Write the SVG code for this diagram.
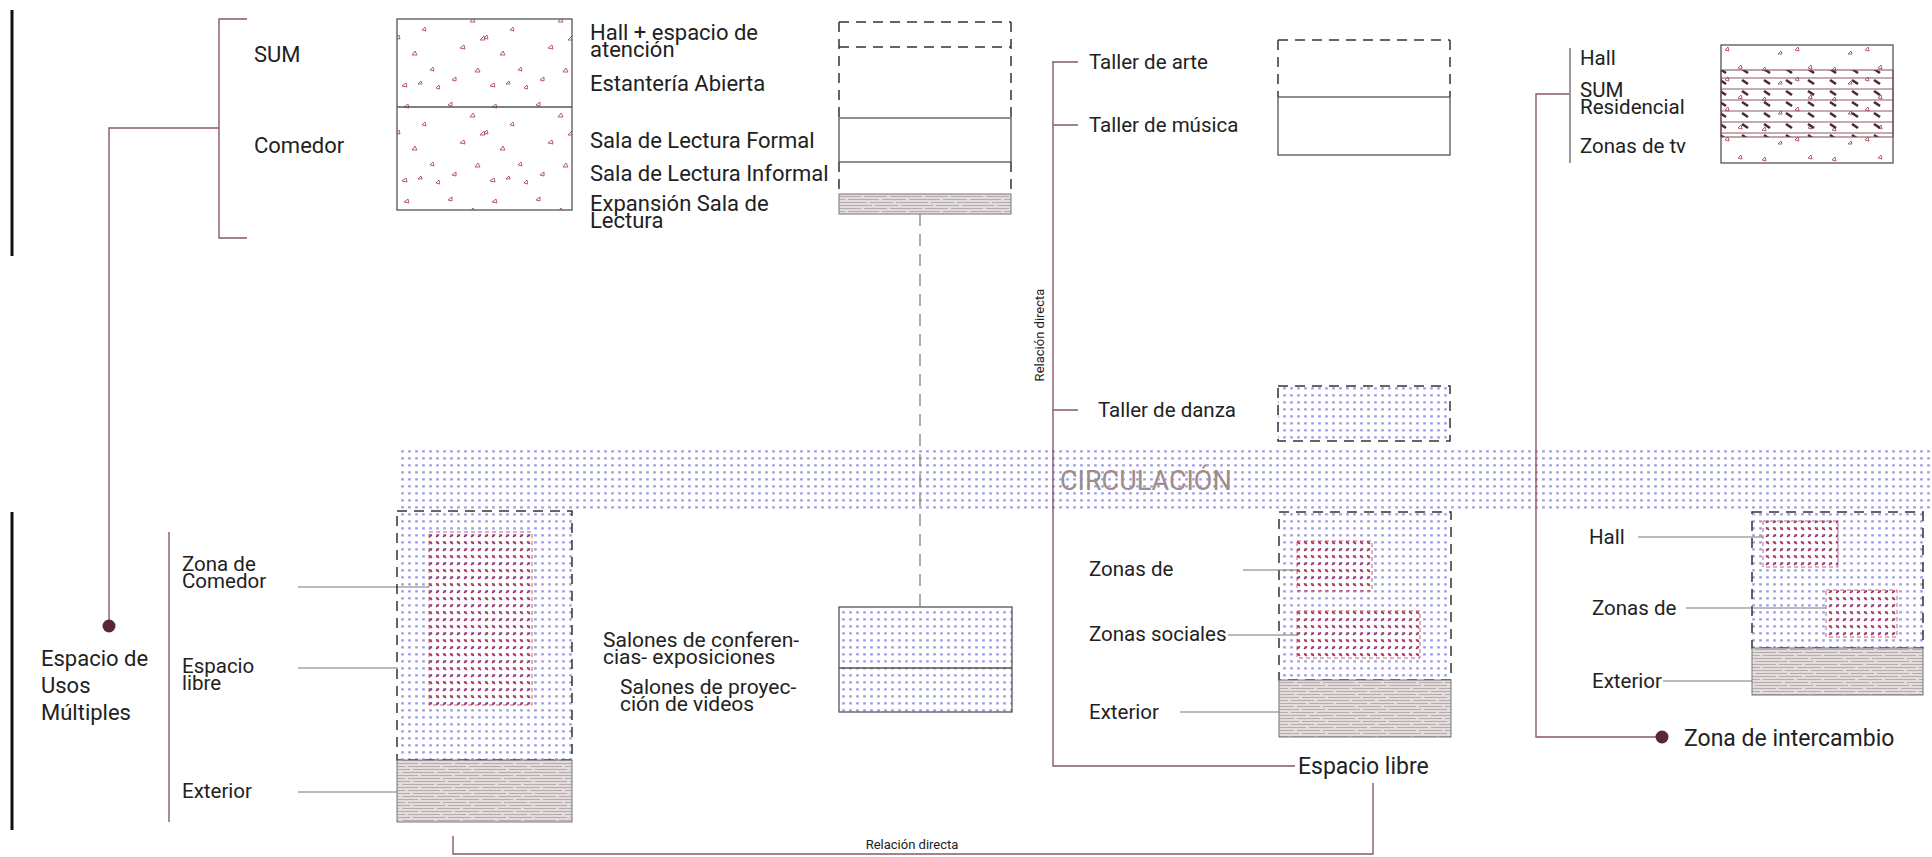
<svg xmlns="http://www.w3.org/2000/svg" width="1932" height="857" viewBox="0 0 1932 857">
<defs>
<style>
text{font-family:Roboto,"Liberation Sans",sans-serif;fill:#222;font-size:20.5px}
.lib{font-size:22px}
.sal{font-size:21px}
.big{font-size:23px}
.sm{font-size:13px}
.dash{fill:none;stroke:#333;stroke-width:1.5;stroke-dasharray:10 7}
.solid{fill:none;stroke:#555;stroke-width:1.3}
.mar{fill:none;stroke:#8a5862;stroke-width:1.4}
.lead{fill:none;stroke:#777;stroke-width:1}
.redbox{fill:url(#red);stroke:#b04050;stroke-width:0.8;stroke-dasharray:4 3}
.ext{fill:url(#hatch);stroke:#777;stroke-width:1}
</style>
<pattern id="dots" width="7" height="7" patternUnits="userSpaceOnUse">
<rect x="2.2" y="2.2" width="2.6" height="2.3" fill="#9a9ae8"/>
</pattern>
<pattern id="red" width="7" height="14" patternUnits="userSpaceOnUse">
<rect x="2.2" y="2.2" width="2.6" height="2.3" fill="#9a9ae8"/>
<rect x="2.2" y="9.2" width="2.6" height="2.3" fill="#9a9ae8"/>
<path d="M2,5 L5,2.5" stroke="#b3283e" stroke-width="1.6"/>
<path d="M2,9.5 L5,12" stroke="#b3283e" stroke-width="1.6"/>
</pattern>
<pattern id="hatch" width="61" height="12" patternUnits="userSpaceOnUse">
<rect width="61" height="12" fill="#e3dcdc"/>
<g stroke="#a3979a" stroke-width="0.7">
<path d="M0,1.5 H18 M21,1.5 H44 M47,1.5 H61"/>
<path d="M0,4.5 H7 M10,4.5 H33 M36,4.5 H61"/>
<path d="M0,7.5 H25 M28,7.5 H52 M55,7.5 H61"/>
<path d="M0,10.5 H13 M16,10.5 H39 M42,10.5 H61"/>
</g>
</pattern>
<pattern id="tri" width="88" height="95" patternUnits="userSpaceOnUse">
<g fill="none" stroke="#b04858" stroke-width="0.9">
<path d="M8,10 l4,-3 l0,4z M30,22 l3,-4 l2,4z M52,12 l4,-3 l1,4z M70,30 l3,-3 l1,4z M20,48 l4,-3 l1,4z M60,55 l3,-4 l2,4z M40,40 l4,-4 l1,4z M78,70 l3,-3 l1,4z M12,80 l4,-3 l0,4z M35,72 l3,-4 l2,4z M50,86 l4,-3 l1,4z M84,88 l3,-3 l1,4z M44,38 l3,-3 l1,4z M66,84 l3,-3 l1,3z"/>
</g>
</pattern>
<pattern id="tri2" width="70" height="30" patternUnits="userSpaceOnUse">
<g fill="none" stroke="#b04858" stroke-width="0.9">
<path d="M12,10 l3,-3 l1,4z M45,20 l3,-3 l1,4z M58,8 l3,-3 l1,4z M28,24 l3,-3 l1,3z"/>
</g>
</pattern>
<pattern id="res" width="22" height="11" patternUnits="userSpaceOnUse">
<path d="M0,1 H22" stroke="#7a4a52" stroke-width="0.9"/>
<path d="M4,3 L10,7" stroke="#4a2a30" stroke-width="2.6"/>
</pattern>
</defs>

<rect width="1932" height="857" fill="#fff"/>

<g id="circulacion">
<rect x="397" y="450" width="1535" height="59" fill="url(#dots)"/>
<text x="1060" y="490" style="font-size:27px;fill:#a08c8c">CIRCULACIÓN</text>
</g>

<g id="connectors">
<path d="M12,10 V256" stroke="#111" stroke-width="3" fill="none"/>
<path d="M12,512 V830" stroke="#111" stroke-width="3" fill="none"/>
<path class="mar" d="M247,19 H219 V238 H247"/>
<path class="mar" d="M219,128 H109 V626"/>
<circle cx="109" cy="626" r="6.5" fill="#5a2832"/>
<path class="mar" d="M169,532 V822"/>
<path d="M920,214 V607" stroke="#777" stroke-width="1.2" stroke-dasharray="12 8" fill="none"/>
<path class="mar" d="M1053,61 V766 H1295 M1053,62 H1078 M1053,125 H1078 M1053,410 H1078"/>
<path class="mar" d="M1373,783 V854 H453 V836"/>
<path class="mar" d="M1569,94 H1536 V737 H1660"/>
<circle cx="1662" cy="737" r="6.5" fill="#5a2832"/>
<path d="M1570,48 V163" stroke="#555" stroke-width="1.2" fill="none"/>
<text x="1044" y="335" class="sm" text-anchor="middle" transform="rotate(-90 1044 335)">Relación directa</text>
<text x="912" y="849" class="sm" text-anchor="middle">Relación directa</text>
</g>

<g id="sum-comedor">
<text x="254" y="62" class="lib">SUM</text>
<text x="254" y="153" class="lib">Comedor</text>
<rect x="397" y="19" width="175" height="191" fill="url(#tri)" stroke="#555" stroke-width="1.3"/>
<path class="solid" d="M397,107 H572"/>
</g>

<g id="biblioteca">
<text x="590" y="40" class="lib">Hall + espacio de</text>
<text x="590" y="57" class="lib">atención</text>
<text x="590" y="91" class="lib">Estantería Abierta</text>
<text x="590" y="148" class="lib">Sala de Lectura Formal</text>
<text x="590" y="181" class="lib">Sala de Lectura Informal</text>
<text x="590" y="211" class="lib">Expansión Sala de</text>
<text x="590" y="228" class="lib">Lectura</text>
<path class="dash" d="M839,22 H1011 M839,47 H1011 M839,22 V118 M1011,22 V118 M839,162 V194 M1011,162 V194"/>
<rect x="839" y="118" width="172" height="44" class="solid"/>
<rect x="839" y="194" width="172" height="20" class="ext"/>
</g>

<g id="salones">
<text x="603" y="647" class="sal">Salones de conferen-</text>
<text x="603" y="664" class="sal">cias- exposiciones</text>
<text x="620" y="694" class="sal">Salones de proyec-</text>
<text x="620" y="711" class="sal">ción de videos</text>
<rect x="839" y="607" width="173" height="105" fill="url(#dots)" stroke="#555" stroke-width="1.3"/>
<path class="solid" d="M839,668 H1012"/>
</g>

<g id="talleres">
<text x="1089" y="69">Taller  de arte</text>
<text x="1089" y="132">Taller de música</text>
<text x="1098" y="417">Taller de danza</text>
<path class="dash" d="M1278,40 H1450 M1278,40 V97 M1450,40 V97"/>
<rect x="1278" y="97" width="172" height="58" class="solid"/>
<rect x="1278" y="386" width="172" height="55" class="dash" style="fill:url(#dots)"/>
</g>

<g id="espacio-libre">
<rect x="1279" y="512" width="172" height="168" class="dash" style="fill:url(#dots)"/>
<rect x="1297" y="541" width="75" height="50" class="redbox"/>
<rect x="1297" y="611" width="123" height="47" class="redbox"/>
<rect x="1279" y="680" width="172" height="57" class="ext"/>
<text x="1089" y="576">Zonas de</text>
<path class="lead" d="M1243,570 H1297"/>
<text x="1089" y="641">Zonas sociales</text>
<path class="lead" d="M1228,635 H1297"/>
<text x="1089" y="719">Exterior</text>
<path class="lead" d="M1180,712 H1279"/>
<text x="1298" y="774" class="big">Espacio libre</text>
</g>

<g id="residencial">
<text x="1580" y="65">Hall</text>
<text x="1580" y="97">SUM</text>
<text x="1580" y="114">Residencial</text>
<text x="1580" y="153">Zonas de tv</text>
<rect x="1721" y="45" width="172" height="118" fill="url(#tri2)" stroke="#555" stroke-width="1.3"/>
<rect x="1721" y="70" width="172" height="67" fill="url(#res)" stroke="#7a4a52" stroke-width="1"/>
</g>

<g id="zona-intercambio">
<rect x="1752" y="512" width="171" height="136" class="dash" style="fill:url(#dots)"/>
<rect x="1763" y="521" width="75" height="46" class="redbox"/>
<rect x="1826" y="590" width="71" height="47" class="redbox"/>
<rect x="1752" y="648" width="171" height="47" class="ext"/>
<text x="1589" y="544">Hall</text>
<path class="lead" d="M1638,537 H1763"/>
<text x="1592" y="615">Zonas de</text>
<path class="lead" d="M1686,608 H1826"/>
<text x="1592" y="688">Exterior</text>
<path class="lead" d="M1663,681 H1752"/>
<text x="1684" y="746" class="big">Zona de intercambio</text>
</g>

<g id="usos-multiples">
<text x="41" y="666" style="font-size:22px">Espacio de</text>
<text x="41" y="693" style="font-size:22px">Usos</text>
<text x="41" y="720" style="font-size:22px">Múltiples</text>
<text x="182" y="571">Zona de</text>
<text x="182" y="588">Comedor</text>
<text x="182" y="673">Espacio</text>
<text x="182" y="690">libre</text>
<text x="182" y="798">Exterior</text>
<path class="lead" d="M298,587 H429 M298,668 H398 M298,792 H397"/>
<rect x="397" y="511" width="175" height="249" class="dash" style="fill:url(#dots)"/>
<rect x="429" y="532" width="103" height="173" class="redbox"/>
<rect x="397" y="760" width="175" height="62" class="ext"/>
</g>
</svg>
